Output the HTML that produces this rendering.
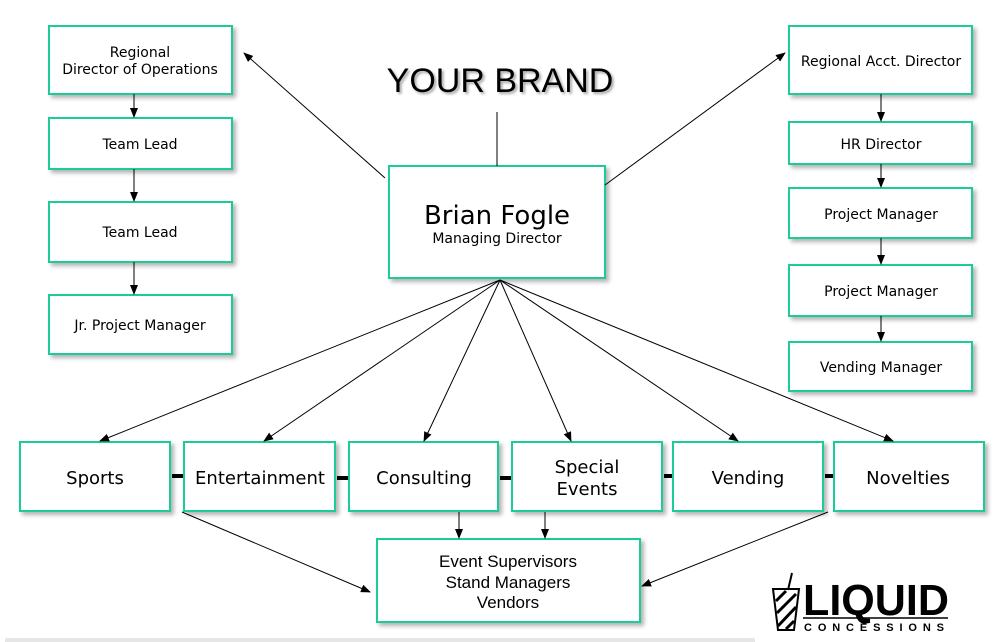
<!DOCTYPE html>
<html><head><meta charset="utf-8"><style>
html,body{margin:0;padding:0;background:#fff;width:1007px;height:642px;overflow:hidden}
svg text{font-family:"DejaVu Sans",Verdana,sans-serif;fill:#000}
</style></head><body>
<svg width="1007" height="642" viewBox="0 0 1007 642" xmlns="http://www.w3.org/2000/svg">
<defs>
<filter id="sh" x="-10%" y="-10%" width="130%" height="140%"><feDropShadow dx="3" dy="3" stdDeviation="2" flood-color="#000" flood-opacity="0.3"/></filter>
<filter id="ts" x="-5%" y="-20%" width="110%" height="150%"><feDropShadow dx="2" dy="2" stdDeviation="1.2" flood-color="#000" flood-opacity="0.35"/></filter>
<marker id="ar" markerWidth="10" markerHeight="8" refX="9" refY="4" orient="auto" markerUnits="userSpaceOnUse"><path d="M0,0 L10,4 L0,8 Z" fill="#000"/></marker>
</defs>
<rect x="5" y="638" width="750" height="4" fill="#e6e6e6"/>
<g fill="#fff" stroke="#1fcc98" stroke-width="2" filter="url(#sh)">
<rect x="49" y="26" width="183" height="68"/>
<rect x="49" y="118" width="183" height="51"/>
<rect x="49" y="202" width="183" height="60"/>
<rect x="49" y="295" width="183" height="59"/>
<rect x="789" y="26" width="183" height="68"/>
<rect x="789" y="122" width="183" height="42"/>
<rect x="789" y="188" width="183" height="50"/>
<rect x="789" y="265" width="183" height="51"/>
<rect x="789" y="342" width="183" height="49"/>
<rect x="389" y="166" width="216" height="112"/>
<rect x="20" y="442" width="150" height="69"/>
<rect x="184" y="442" width="151" height="69"/>
<rect x="349" y="442" width="149" height="69"/>
<rect x="512" y="442" width="150" height="69"/>
<rect x="673" y="442" width="150" height="69"/>
<rect x="834" y="442" width="150" height="69"/>
<rect x="377" y="539" width="263" height="83"/>
</g>
<g stroke="#000" stroke-width="1" fill="none" marker-end="url(#ar)">
<line x1="385" y1="178" x2="244" y2="53"/>
<line x1="605" y1="185" x2="785" y2="53"/>
<line x1="134" y1="94" x2="134" y2="117"/>
<line x1="134" y1="169" x2="134" y2="201"/>
<line x1="134" y1="262" x2="134" y2="294"/>
<line x1="881" y1="94" x2="881" y2="121"/>
<line x1="881" y1="164" x2="881" y2="187"/>
<line x1="881" y1="238" x2="881" y2="264"/>
<line x1="881" y1="316" x2="881" y2="341"/>
<line x1="500" y1="280" x2="100" y2="441"/>
<line x1="500" y1="280" x2="264" y2="441"/>
<line x1="500" y1="280" x2="424" y2="441"/>
<line x1="500" y1="280" x2="571" y2="441"/>
<line x1="500" y1="280" x2="738" y2="441"/>
<line x1="500" y1="280" x2="893" y2="441"/>
<line x1="182" y1="512" x2="370" y2="592"/>
<line x1="459" y1="512" x2="459" y2="538"/>
<line x1="545" y1="512" x2="545" y2="538"/>
<line x1="828" y1="512" x2="642" y2="586"/>
</g>
<line x1="497" y1="112" x2="497" y2="166" stroke="#000" stroke-width="1"/>
<g stroke="#000" stroke-width="4">
<line x1="172" y1="476" x2="183" y2="476"/>
<line x1="337" y1="478" x2="348" y2="478"/>
<line x1="500" y1="478" x2="511" y2="478"/>
<line x1="664" y1="476" x2="672" y2="476"/>
<line x1="825" y1="476" x2="833" y2="476"/>
</g>
<text x="500" y="92" font-size="34" text-anchor="middle" filter="url(#ts)" style="font-family:'Liberation Sans',Arial,sans-serif">YOUR BRAND</text>
<g font-size="14" text-anchor="middle">
<text x="140" y="57">Regional</text>
<text x="140" y="74">Director of Operations</text>
<text x="140" y="149">Team Lead</text>
<text x="140" y="237">Team Lead</text>
<text x="140" y="330">Jr. Project Manager</text>
<text x="881" y="66">Regional Acct. Director</text>
<text x="881" y="149">HR Director</text>
<text x="881" y="219">Project Manager</text>
<text x="881" y="296">Project Manager</text>
<text x="881" y="372">Vending Manager</text>
</g>
<text x="497" y="224" font-size="26" text-anchor="middle">Brian Fogle</text>
<text x="497" y="243" font-size="14" text-anchor="middle">Managing Director</text>
<g font-size="18" text-anchor="middle">
<text x="95" y="484">Sports</text>
<text x="260" y="484">Entertainment</text>
<text x="424" y="484">Consulting</text>
<text x="587" y="473">Special</text>
<text x="587" y="495">Events</text>
<text x="748" y="484">Vending</text>
<text x="908" y="484">Novelties</text>
</g>
<g font-size="17" text-anchor="middle">
<text x="508" y="567" style="font-family:'Liberation Sans',Arial,sans-serif">Event Supervisors</text>
<text x="508" y="588" style="font-family:'Liberation Sans',Arial,sans-serif">Stand Managers</text>
<text x="508" y="608" style="font-family:'Liberation Sans',Arial,sans-serif">Vendors</text>
</g>
<g>
<path d="M773,589 L799,589 L794,630 L778,630 Z" fill="#fff" stroke="#000" stroke-width="2"/>
<g stroke="#000" stroke-width="3"><line x1="776" y1="601" x2="786" y2="591"/><line x1="777" y1="613" x2="796" y2="594"/><line x1="778" y1="626" x2="796" y2="607"/><line x1="786" y1="629" x2="794" y2="621"/></g>
<line x1="788" y1="590" x2="792" y2="573" stroke="#000" stroke-width="2"/>
<text x="803" y="615" font-size="44" font-weight="bold" textLength="146" lengthAdjust="spacingAndGlyphs" style="font-family:'Liberation Sans',Arial,sans-serif">LIQUID</text>
<line x1="803" y1="618" x2="948" y2="618" stroke="#000" stroke-width="1.5"/>
<text x="804" y="631" font-size="11" font-weight="bold" textLength="140" lengthAdjust="spacing" style="font-family:'Liberation Sans',Arial,sans-serif">CONCESSIONS</text>
</g>
</svg>
</body></html>
